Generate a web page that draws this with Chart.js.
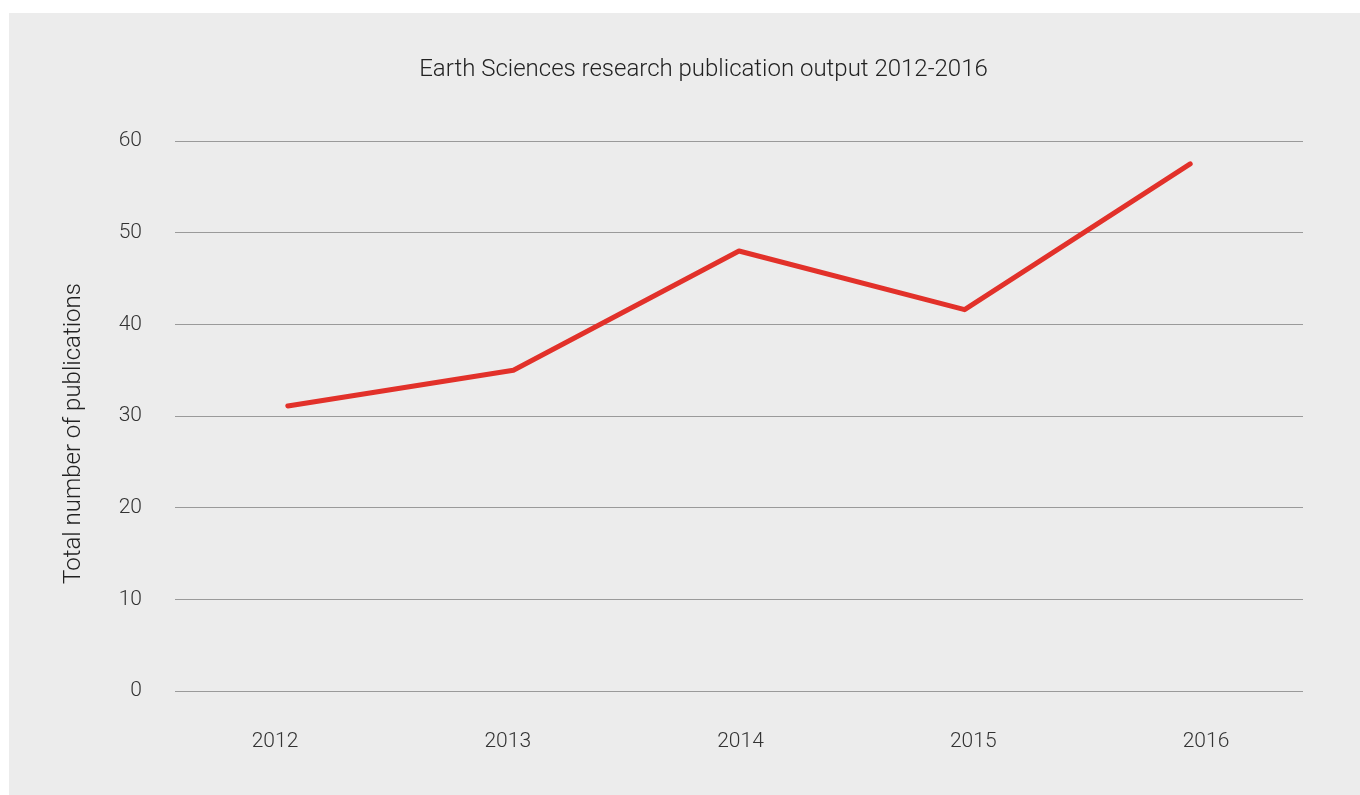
<!DOCTYPE html>
<html>
<head>
<meta charset="utf-8">
<script src="https://cdn.jsdelivr.net/npm/chart.js@4"></script>
<style>
  html, body { margin: 0; padding: 0; background: #ffffff; }
  #wrap { width: 1360px; height: 795px; }
</style>
</head>
<body>
<div id="wrap"><canvas id="chartOutput" width="1360" height="795"></canvas></div>
<script>
var years = ['2012', '2013', '2014', '2015', '2016'];
var publications = [31.1, 35, 48, 41.6, 57.5];
var yTicks = [0, 10, 20, 30, 40, 50, 60];

// grey panel behind the chart
var panelBg = {
    id: 'panelBg',
    beforeDraw: function(chart) {
        var ctx = chart.ctx;
        ctx.save();
        ctx.fillStyle = '#ececec';
        ctx.fillRect(9, 13, 1351, 782);
        ctx.restore();
    }
};

var ctx = document.getElementById('chartOutput');
var myChart = new Chart(ctx, {
    type: 'line',
    data: {
        labels: years,
        datasets: [{
            label: 'Total number of publications',
            data: publications,
            borderColor: '#e2312a',
            backgroundColor: '#e2312a',
            borderWidth: 5,
            borderCapStyle: 'round',
            borderJoinStyle: 'round',
            pointRadius: 0,
            tension: 0,
            fill: false
        }]
    },
    options: {
        responsive: false,
        animation: false,
        layout: { padding: { left: 47, right: 0, top: 0, bottom: 0 } },
        plugins: {
            legend: { display: false },
            tooltip: { enabled: false },
            title: {
                display: true,
                text: 'Earth Sciences research publication output 2012-2016',
                color: '#222222',
                font: { family: 'Roboto', weight: '300', size: 24 },
                padding: { top: 55.6, bottom: 56.6 }
            }
        },
        scales: {
            // category axis that places the data points
            x: {
                display: false,
                offset: true
            },
            // year labels sit a little wider apart than the points
            xYear: {
                type: 'linear',
                position: 'bottom',
                min: 2011.5704,
                max: 2016.4168,
                afterBuildTicks: function(s) {
                    s.ticks = years.map(function(y) { return { value: Number(y) }; });
                },
                grid: { display: false, drawTicks: false },
                border: { display: false },
                ticks: {
                    color: '#333333',
                    font: { family: 'Roboto', weight: '300', size: 21 },
                    padding: 38,
                    callback: function(v) { return String(v); }
                },
                afterFit: function(s) { s.height = 104; }
            },
            y: {
                min: 0,
                max: 60,
                afterBuildTicks: function(s) {
                    s.ticks = yTicks.map(function(v) { return { value: v }; });
                },
                grid: { color: '#9a9a9a', lineWidth: 1, drawTicks: false },
                border: { display: false },
                ticks: {
                    color: '#333333',
                    font: { family: 'Roboto', weight: '300', size: 21 },
                    padding: 33
                },
                title: {
                    display: true,
                    text: 'Total number of publications      ',
                    color: '#222222',
                    font: { family: 'Roboto', weight: '300', size: 24 },
                    padding: { top: 12.6, bottom: 0 }
                },
                afterFit: function(s) { s.width = 128; }
            },
            yRight: {
                position: 'right',
                display: true,
                grid: { display: false, drawTicks: false },
                border: { display: false },
                ticks: { display: false },
                afterFit: function(s) { s.width = 57; }
            }
        }
    },
    plugins: [panelBg]
});
</script>
</body>
</html>
